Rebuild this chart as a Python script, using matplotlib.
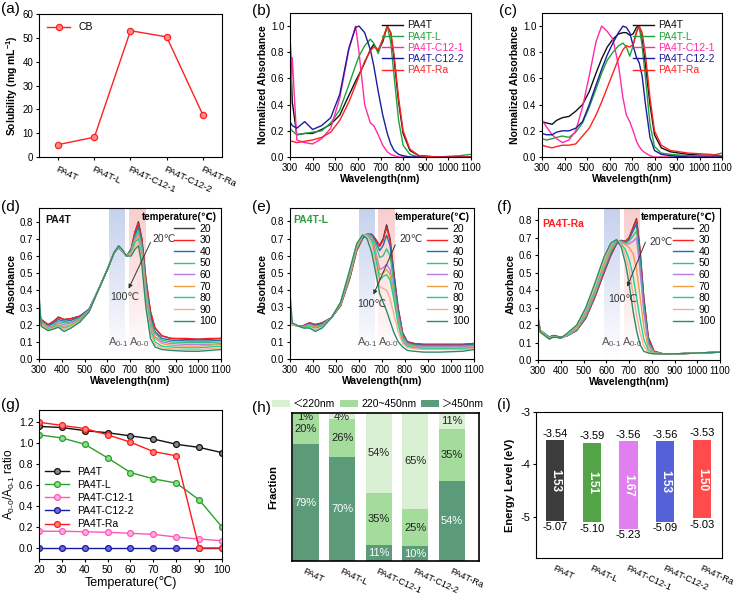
import numpy as np
import matplotlib
matplotlib.use('Agg')
import matplotlib.pyplot as plt
from matplotlib.colors import to_rgb
from matplotlib.patches import Patch

plt.rcParams.update({
    'font.family': ['Liberation Sans', 'DejaVu Sans', 'Noto Sans CJK SC'],
    'font.size': 7,
    'axes.unicode_minus': False,
    'mathtext.fontset': 'custom',
    'mathtext.rm': 'Liberation Sans',
    'mathtext.it': 'Liberation Sans:italic',
    'mathtext.bf': 'Liberation Sans:bold',
    'axes.linewidth': 0.8,
    'xtick.direction': 'out', 'ytick.direction': 'out',
    'xtick.major.size': 2.5, 'ytick.major.size': 2.5,
    'xtick.major.width': 0.8, 'ytick.major.width': 0.8,
    'xtick.labelsize': 7, 'ytick.labelsize': 7,
    'xtick.major.pad': 1.5, 'ytick.major.pad': 1.5,
})

# ---------------- data ----------------
cats = ['PA4T', 'PA4T-L', 'PA4T-C12-1', 'PA4T-C12-2', 'PA4T-Ra']
solubility = [5.2, 8.3, 53.0, 50.4, 17.7]

# (b) solution normalized absorbance
wl_b = [300, 310, 330, 365, 400, 440, 480, 520, 560, 590, 605, 630, 655, 670, 690,
        710, 730, 745, 760, 780, 800, 830, 870, 950, 1050, 1100]
b_PA4T = [0.95, 0.42, 0.17, 0.18, 0.18, 0.21, 0.25, 0.32, 0.47, 0.58, 0.63, 0.72, 0.82, 0.86, 0.81,
          0.88, 1.0, 0.95, 0.75, 0.42, 0.18, 0.05, 0.01, 0.0, 0.0, 0.0]
b_L = [0.22, 0.20, 0.17, 0.18, 0.19, 0.20, 0.26, 0.36, 0.55, 0.70, 0.77, 0.85, 0.90, 0.87, 0.79,
       0.90, 1.0, 0.88, 0.62, 0.28, 0.09, 0.02, 0.0, 0.0, 0.01, 0.02]
b_C1 = [0.30, 0.76, 0.13, 0.11, 0.10, 0.14, 0.22, 0.45, 0.82, 1.0, 0.80, 0.40, 0.26, 0.24, 0.17,
        0.09, 0.04, 0.02, 0.01, 0.0, 0.0, 0.0, 0.0, 0.0, 0.0, 0.0]
b_C2 = [0.27, 0.24, 0.22, 0.27, 0.21, 0.24, 0.30, 0.48, 0.83, 0.99, 1.0, 0.95, 0.82, 0.70, 0.50,
        0.32, 0.18, 0.10, 0.05, 0.02, 0.01, 0.0, 0.0, 0.0, 0.0, 0.0]
b_Ra = [0.12, 0.12, 0.11, 0.12, 0.13, 0.15, 0.19, 0.28, 0.42, 0.55, 0.62, 0.73, 0.81, 0.84, 0.82,
        0.90, 1.0, 0.95, 0.78, 0.45, 0.20, 0.06, 0.01, 0.0, 0.0, 0.0]

# (c) film normalized absorbance
wl_c = [300, 320, 345, 365, 390, 420, 450, 480, 510, 540, 565, 590, 615, 640, 660,
        675, 690, 705, 720, 732, 745, 760, 780, 800, 830, 870, 950, 1050, 1100]
c_PA4T = [0.27, 0.26, 0.25, 0.28, 0.30, 0.31, 0.35, 0.40, 0.50, 0.64, 0.75, 0.84, 0.90, 0.94, 0.95,
          0.95, 0.93, 0.94, 0.99, 1.0, 0.90, 0.70, 0.40, 0.17, 0.07, 0.04, 0.02, 0.01, 0.01]
c_L = [0.14, 0.13, 0.14, 0.15, 0.16, 0.15, 0.19, 0.26, 0.38, 0.52, 0.64, 0.74, 0.80, 0.85, 0.87,
       0.84, 0.77, 0.85, 0.96, 1.0, 0.85, 0.60, 0.25, 0.08, 0.03, 0.02, 0.01, 0.01, 0.03]
c_C1 = [0.28, 0.23, 0.17, 0.14, 0.11, 0.13, 0.20, 0.38, 0.62, 0.88, 1.0, 0.96, 0.90, 0.70, 0.45,
        0.32, 0.27, 0.20, 0.12, 0.08, 0.05, 0.03, 0.01, 0.0, 0.0, 0.0, 0.0, 0.0, 0.0]
c_C2 = [0.18, 0.17, 0.17, 0.19, 0.20, 0.20, 0.22, 0.27, 0.40, 0.55, 0.67, 0.78, 0.87, 0.95, 1.0,
        0.99, 0.95, 0.85, 0.76, 0.72, 0.62, 0.40, 0.15, 0.05, 0.02, 0.01, 0.0, 0.0, 0.0]
c_Ra = [0.09, 0.08, 0.07, 0.08, 0.09, 0.09, 0.10, 0.16, 0.22, 0.32, 0.42, 0.53, 0.64, 0.75, 0.82,
        0.85, 0.84, 0.86, 0.95, 1.0, 0.95, 0.78, 0.45, 0.20, 0.09, 0.05, 0.03, 0.02, 0.01]

temps = [20, 30, 40, 50, 60, 70, 80, 90, 100]

# (d) PA4T temperature-dependent absorbance
wl_d = [300, 310, 340, 365, 385, 410, 440, 480, 520, 560, 600, 630, 650, 665, 685,
        705, 722, 737, 752, 770, 790, 810, 840, 880, 950, 1000, 1050, 1100]
d20 = [0.25, 0.23, 0.20, 0.22, 0.245, 0.23, 0.235, 0.25, 0.29, 0.40, 0.52, 0.62, 0.65, 0.63, 0.60,
       0.64, 0.74, 0.80, 0.70, 0.46, 0.27, 0.18, 0.135, 0.12, 0.115, 0.115, 0.115, 0.12]
d30 = [0.26, 0.23, 0.20, 0.22, 0.24, 0.23, 0.235, 0.25, 0.29, 0.40, 0.52, 0.62, 0.65, 0.63, 0.60,
       0.64, 0.74, 0.79, 0.70, 0.47, 0.28, 0.18, 0.135, 0.12, 0.12, 0.115, 0.12, 0.12]
d40 = [0.27, 0.22, 0.195, 0.21, 0.23, 0.22, 0.225, 0.245, 0.29, 0.40, 0.52, 0.62, 0.65, 0.63, 0.60,
       0.635, 0.72, 0.77, 0.68, 0.44, 0.25, 0.16, 0.12, 0.11, 0.105, 0.105, 0.105, 0.11]
d50 = [0.28, 0.22, 0.19, 0.20, 0.22, 0.21, 0.215, 0.24, 0.285, 0.40, 0.52, 0.62, 0.65, 0.63, 0.60,
       0.63, 0.71, 0.75, 0.66, 0.42, 0.23, 0.15, 0.11, 0.10, 0.095, 0.095, 0.095, 0.10]
d60 = [0.29, 0.21, 0.185, 0.195, 0.21, 0.20, 0.21, 0.235, 0.285, 0.40, 0.52, 0.62, 0.655, 0.63, 0.60,
       0.625, 0.70, 0.73, 0.64, 0.40, 0.21, 0.13, 0.10, 0.09, 0.085, 0.085, 0.085, 0.09]
d70 = [0.31, 0.21, 0.18, 0.19, 0.20, 0.19, 0.20, 0.23, 0.28, 0.40, 0.52, 0.62, 0.655, 0.635, 0.60,
       0.62, 0.69, 0.72, 0.62, 0.38, 0.19, 0.12, 0.09, 0.08, 0.075, 0.075, 0.08, 0.085]
d80 = [0.33, 0.20, 0.175, 0.185, 0.195, 0.18, 0.195, 0.225, 0.28, 0.40, 0.52, 0.62, 0.655, 0.635, 0.60,
       0.615, 0.68, 0.70, 0.60, 0.36, 0.17, 0.10, 0.075, 0.07, 0.065, 0.065, 0.07, 0.075]
d90 = [0.35, 0.20, 0.17, 0.18, 0.19, 0.17, 0.19, 0.22, 0.275, 0.40, 0.52, 0.62, 0.66, 0.635, 0.60,
       0.61, 0.66, 0.68, 0.58, 0.33, 0.15, 0.085, 0.065, 0.06, 0.055, 0.055, 0.06, 0.065]
d100 = [0.38, 0.19, 0.165, 0.175, 0.185, 0.16, 0.18, 0.215, 0.275, 0.40, 0.52, 0.62, 0.66, 0.64, 0.60,
        0.60, 0.64, 0.66, 0.55, 0.30, 0.12, 0.07, 0.055, 0.05, 0.045, 0.045, 0.05, 0.055]

# (e) PA4T-L
wl_e = [300, 310, 340, 360, 385, 410, 440, 480, 520, 560, 590, 615, 635, 655, 670,
        690, 705, 720, 735, 750, 770, 790, 810, 840, 880, 950, 1050, 1100]
e20 = [0.22, 0.20, 0.19, 0.195, 0.21, 0.20, 0.21, 0.24, 0.31, 0.47, 0.63, 0.70, 0.725, 0.725, 0.70,
       0.66, 0.70, 0.78, 0.70, 0.52, 0.30, 0.15, 0.10, 0.09, 0.085, 0.085, 0.085, 0.09]
e30 = [0.23, 0.20, 0.19, 0.195, 0.21, 0.20, 0.21, 0.24, 0.31, 0.47, 0.63, 0.70, 0.725, 0.725, 0.70,
       0.655, 0.69, 0.765, 0.69, 0.51, 0.29, 0.15, 0.10, 0.09, 0.085, 0.085, 0.085, 0.09]
e40 = [0.24, 0.20, 0.19, 0.19, 0.205, 0.195, 0.205, 0.24, 0.315, 0.48, 0.64, 0.705, 0.725, 0.72, 0.69,
       0.63, 0.66, 0.72, 0.66, 0.49, 0.28, 0.14, 0.095, 0.085, 0.08, 0.08, 0.08, 0.085]
e50 = [0.25, 0.20, 0.19, 0.19, 0.20, 0.19, 0.20, 0.24, 0.315, 0.48, 0.64, 0.71, 0.725, 0.715, 0.67,
       0.59, 0.60, 0.64, 0.60, 0.45, 0.26, 0.13, 0.09, 0.08, 0.075, 0.075, 0.075, 0.08]
e60 = [0.27, 0.20, 0.19, 0.19, 0.20, 0.19, 0.195, 0.24, 0.32, 0.49, 0.65, 0.715, 0.725, 0.71, 0.64,
       0.52, 0.53, 0.55, 0.52, 0.40, 0.24, 0.12, 0.085, 0.075, 0.07, 0.07, 0.07, 0.075]
e70 = [0.29, 0.20, 0.19, 0.185, 0.195, 0.185, 0.19, 0.24, 0.32, 0.49, 0.65, 0.715, 0.72, 0.70, 0.62,
       0.49, 0.50, 0.52, 0.49, 0.38, 0.22, 0.11, 0.08, 0.07, 0.065, 0.065, 0.065, 0.07]
e80 = [0.31, 0.20, 0.19, 0.185, 0.19, 0.18, 0.19, 0.24, 0.325, 0.50, 0.66, 0.72, 0.72, 0.69, 0.60,
       0.46, 0.48, 0.49, 0.46, 0.36, 0.20, 0.10, 0.075, 0.065, 0.06, 0.06, 0.06, 0.065]
e90 = [0.34, 0.20, 0.19, 0.18, 0.185, 0.17, 0.185, 0.24, 0.33, 0.51, 0.66, 0.72, 0.715, 0.67, 0.56,
       0.42, 0.41, 0.40, 0.35, 0.27, 0.16, 0.09, 0.065, 0.06, 0.055, 0.055, 0.055, 0.06]
e100 = [0.38, 0.21, 0.19, 0.18, 0.18, 0.16, 0.18, 0.24, 0.33, 0.52, 0.67, 0.72, 0.70, 0.62, 0.52,
        0.38, 0.33, 0.28, 0.22, 0.16, 0.10, 0.07, 0.05, 0.045, 0.04, 0.04, 0.045, 0.055]

# (f) PA4T-Ra
wl_f = [300, 310, 330, 350, 365, 385, 400, 430, 470, 510, 550, 590, 620, 645, 665,
        685, 700, 718, 733, 748, 765, 785, 810, 850, 900, 1000, 1100]
f20 = [0.22, 0.17, 0.15, 0.13, 0.14, 0.135, 0.13, 0.14, 0.17, 0.24, 0.36, 0.50, 0.60, 0.665, 0.685,
       0.68, 0.70, 0.76, 0.81, 0.64, 0.36, 0.13, 0.05, 0.035, 0.035, 0.04, 0.045]
f30 = [0.22, 0.17, 0.15, 0.13, 0.14, 0.135, 0.13, 0.14, 0.17, 0.24, 0.36, 0.50, 0.60, 0.665, 0.685,
       0.68, 0.70, 0.755, 0.80, 0.63, 0.35, 0.12, 0.05, 0.035, 0.035, 0.04, 0.045]
f40 = [0.23, 0.17, 0.15, 0.13, 0.14, 0.135, 0.13, 0.14, 0.17, 0.245, 0.37, 0.51, 0.61, 0.67, 0.685,
       0.675, 0.69, 0.74, 0.78, 0.60, 0.33, 0.11, 0.045, 0.035, 0.035, 0.04, 0.045]
f50 = [0.23, 0.17, 0.15, 0.13, 0.135, 0.13, 0.13, 0.14, 0.175, 0.25, 0.375, 0.52, 0.62, 0.675, 0.68,
       0.67, 0.68, 0.71, 0.74, 0.56, 0.30, 0.10, 0.045, 0.035, 0.035, 0.04, 0.045]
f60 = [0.24, 0.17, 0.145, 0.125, 0.135, 0.13, 0.125, 0.14, 0.18, 0.26, 0.38, 0.53, 0.63, 0.68, 0.68,
       0.665, 0.665, 0.68, 0.70, 0.52, 0.27, 0.09, 0.04, 0.035, 0.035, 0.04, 0.045]
f70 = [0.24, 0.17, 0.145, 0.125, 0.135, 0.13, 0.125, 0.145, 0.18, 0.27, 0.39, 0.54, 0.64, 0.685, 0.675,
       0.66, 0.645, 0.61, 0.52, 0.37, 0.19, 0.07, 0.04, 0.035, 0.035, 0.04, 0.045]
f80 = [0.24, 0.16, 0.14, 0.12, 0.13, 0.13, 0.125, 0.145, 0.19, 0.28, 0.40, 0.56, 0.65, 0.685, 0.67,
       0.63, 0.58, 0.48, 0.36, 0.24, 0.12, 0.055, 0.038, 0.035, 0.035, 0.04, 0.045]
f90 = [0.25, 0.16, 0.14, 0.12, 0.13, 0.13, 0.125, 0.15, 0.195, 0.29, 0.42, 0.57, 0.66, 0.69, 0.665,
       0.60, 0.52, 0.38, 0.26, 0.16, 0.08, 0.045, 0.037, 0.035, 0.035, 0.04, 0.045]
f100 = [0.25, 0.16, 0.14, 0.12, 0.13, 0.13, 0.125, 0.155, 0.20, 0.30, 0.44, 0.59, 0.67, 0.69, 0.65,
        0.55, 0.44, 0.28, 0.17, 0.09, 0.05, 0.04, 0.035, 0.035, 0.035, 0.04, 0.045]

# (g) A0-0/A0-1 ratio
g_PA4T = [1.16, 1.15, 1.12, 1.10, 1.07, 1.04, 0.99, 0.96, 0.91]
g_L = [1.08, 1.05, 0.99, 0.86, 0.72, 0.66, 0.62, 0.46, 0.20]
g_C1 = [0.16, 0.16, 0.155, 0.15, 0.14, 0.13, 0.105, 0.085, 0.07]
g_C2 = [0.0, 0.0, 0.0, 0.0, 0.0, 0.0, 0.0, 0.0, 0.0]
g_Ra = [1.20, 1.17, 1.14, 1.08, 1.01, 0.92, 0.88, 0.0, 0.0]

# (h) fractions (%)
h_labels = ['＜220nm', '220~450nm', '＞450nm']
h_gt450 = [79, 70, 11, 10, 54]
h_mid = [20, 26, 35, 25, 35]
h_lt220 = [1, 4, 54, 65, 11]

# (i) energy levels
lumo = [-3.54, -3.59, -3.56, -3.56, -3.53]
homo = [-5.07, -5.10, -5.23, -5.09, -5.03]
gap = ['1.53', '1.51', '1.67', '1.53', '1.50']

# ---------------- styles ----------------
mol_colors = ['#111111', '#1fa13a', '#ff2aa8', '#1c1c9e', '#ff2222']
temp_colors = ['#3a3a3a', '#ff2020', '#1f6fb2', '#3cc07a', '#b57be0', '#f0a040', '#1fcf8f', '#f6b090', '#2a8a6a']
W, H = 734, 596
fig = plt.figure(figsize=(W / 100, H / 100), dpi=100)


def add_ax(x0, y0, x1, y1):
    return fig.add_axes([x0 / W, 1 - y1 / H, (x1 - x0) / W, (y1 - y0) / H])


def panel_label(x, y, s):
    fig.text(x / W, 1 - y / H, s, fontsize=11, ha='left', va='center')


def rot_labels(ax, labels, size=6.8):
    ax.set_xticks(range(len(labels)))
    ax.set_xticklabels(labels, rotation=-25, ha='left', va='top', rotation_mode='anchor', fontsize=size)


def wl_axis(ax, ymax, yticks, fmt):
    ax.set_xlim(300, 1100)
    ax.set_xticks(range(300, 1101, 100))
    ax.set_ylim(0, ymax)
    ax.set_yticks(yticks)
    ax.set_yticklabels([fmt.format(v) for v in yticks])
    ax.set_xlabel('Wavelength(nm)', fontweight='bold', fontsize=7.5, labelpad=1)


# ---------------- (a) ----------------
ax = add_ax(39, 14, 222, 157)
ax.plot(range(len(cats)), solubility, '-o', color='#ff2020', lw=1.0, ms=4.5,
        mfc='#ff8a8a', mec='#ff2020', mew=0.9, label='CB')
ax.set_xlim(-0.53, 4.53)
ax.set_ylim(0, 60)
ax.set_yticks(range(0, 61, 10))
rot_labels(ax, cats)
ax.tick_params(axis='x', pad=3)
ax.set_ylabel('Solubility (mg mL$^{\\mathbf{-1}}$)', fontweight='bold', fontsize=7.5, labelpad=2)
ax.legend(loc='upper left', frameon=False, fontsize=7.5, handlelength=2.2, borderaxespad=0.4)
panel_label(1, 9, '(a)')

# ---------------- (b) & (c) ----------------
for (x0, y0, x1, y1), wl, series, lab, lx in [
        ((290, 13, 471, 157), wl_b, [b_PA4T, b_L, b_C1, b_C2, b_Ra], '(b)', 252),
        ((542, 13, 722, 157), wl_c, [c_PA4T, c_L, c_C1, c_C2, c_Ra], '(c)', 499)]:
    ax = add_ax(x0, y0, x1, y1)
    for s, c, n in zip(series, mol_colors, cats):
        ax.plot(wl, s, color=c, lw=1.0, label=n)
    wl_axis(ax, 1.1, [0.0, 0.2, 0.4, 0.6, 0.8, 1.0], '{:.1f}')
    ax.set_ylabel('Normalized Absorbance', fontweight='bold', fontsize=7.5, labelpad=2)
    leg = ax.legend(loc='upper right', frameon=False, fontsize=7.5, handlelength=2.0,
                    handletextpad=0.4, labelspacing=0.12, borderaxespad=0.3)
    for t, c in zip(leg.get_texts(), mol_colors):
        t.set_color(c)
    panel_label(lx, 11, lab)


# ---------------- (d)(e)(f) ----------------
def shade(ax, x0, x1, color, ymax):
    rgb = to_rgb(color)
    n = 64
    img = np.zeros((n, 1, 4))
    img[:, 0, :3] = rgb
    img[:, 0, 3] = np.linspace(0.6, 0.0, n)
    ax.imshow(img, extent=[x0, x1, 0, ymax], aspect='auto', origin='upper',
              zorder=0.5, interpolation='bilinear')


spans_d = [(607, 677), (695, 766)]
spans_e = [(600, 669), (683, 756)]
spans_f = [(592, 661), (679, 749)]

A01 = 'A$_{\\text{0-1}}$'
A00 = 'A$_{\\text{0-0}}$'

temp_panels = [
    dict(box=(39, 208, 221, 359), wl=wl_d, rows=[d20, d30, d40, d50, d60, d70, d80, d90, d100],
         spans=spans_d, ymax=0.88, name='PA4T', ncol='#111111', npos=(0.035, 0.92),
         arr=((790, 0.68), (694, 0.41)), t20=(800, 0.70), t100=(615, 0.36),
         a01=648, a00=742, lab='(d)', lx=1, ly=207),
    dict(box=(290, 208, 474, 359), wl=wl_e, rows=[e20, e30, e40, e50, e60, e70, e80, e90, e100],
         spans=spans_e, ymax=0.878, name='PA4T-L', ncol='#2e9a3e', npos=(0.02, 0.92),
         arr=((758, 0.665), (663, 0.375)), t20=(775, 0.70), t100=(594, 0.32),
         a01=636, a00=726, lab='(e)', lx=252, ly=207),
    dict(box=(538, 208, 720, 360), wl=wl_f, rows=[f20, f30, f40, f50, f60, f70, f80, f90, f100],
         spans=spans_f, ymax=0.871, name='PA4T-Ra', ncol='#ff2020', npos=(0.025, 0.895),
         arr=((772, 0.675), (692, 0.42)), t20=(788, 0.675), t100=(608, 0.35),
         a01=622, a00=716, lab='(f)', lx=497, ly=207),
]

for p in temp_panels:
    ax = add_ax(*p['box'])
    shade(ax, p['spans'][0][0], p['spans'][0][1], '#9fb2e2', p['ymax'])
    shade(ax, p['spans'][1][0], p['spans'][1][1], '#f7abab', p['ymax'])
    for r, c, t in zip(p['rows'], temp_colors, temps):
        ax.plot(p['wl'], r, color=c, lw=1.0, label=str(t), zorder=2)
    wl_axis(ax, p['ymax'], [0.0, 0.1, 0.2, 0.3, 0.4, 0.5, 0.6, 0.7, 0.8], '{:.1f}')
    ax.set_ylabel('Absorbance', fontweight='bold', fontsize=7.5, labelpad=2)
    ax.text(p['npos'][0], p['npos'][1], p['name'], transform=ax.transAxes, color=p['ncol'],
            fontweight='bold', fontsize=7.5, ha='left', va='center')
    ax.annotate('', xy=p['arr'][1], xytext=p['arr'][0],
                arrowprops=dict(arrowstyle='-|>', color='#333333', lw=0.7, mutation_scale=6,
                                shrinkA=0, shrinkB=0), zorder=4)
    ax.text(p['t20'][0], p['t20'][1], '20℃', fontsize=7.5, color='#333333', ha='left', va='center', zorder=4)
    ax.text(p['t100'][0], p['t100'][1], '100℃', fontsize=7.5, color='#333333', ha='left', va='center', zorder=4)
    ax.text(p['a01'], 0.10, A01, fontsize=8, color='#555555', ha='center', va='center', zorder=4)
    ax.text(p['a00'], 0.10, A00, fontsize=8, color='#555555', ha='center', va='center', zorder=4)
    leg = ax.legend(loc='upper right', frameon=False, fontsize=7.5, title='temperature(℃)',
                    title_fontproperties={'weight': 'bold', 'size': 7}, handlelength=1.9,
                    handletextpad=0.5, labelspacing=0.15, borderaxespad=0.2, borderpad=0.2,
                    alignment='right')
    leg.set_zorder(5)
    panel_label(p['lx'], p['ly'], p['lab'])

# ---------------- (g) ----------------
ax = add_ax(39, 410, 222, 559)
g_series = [g_PA4T, g_L, g_C1, g_C2, g_Ra]
g_colors = ['#111111', '#2ca02c', '#ff55bb', '#1a1a9c', '#ff1a1a']
g_faces = ['#8a8a8a', '#8fdc8f', '#ffb0e0', '#6a6ae6', '#ff8080']
for s, c, fc, n in zip(g_series, g_colors, g_faces, cats):
    ax.plot(temps, s, '-o', color=c, mfc=fc, mec=c, ms=4.2, mew=0.9, lw=1.0, label=n)
ax.set_xlim(20, 100)
ax.set_xticks(range(20, 101, 10))
ax.set_ylim(-0.105, 1.317)
ax.set_yticks([0.0, 0.2, 0.4, 0.6, 0.8, 1.0, 1.2])
ax.set_yticklabels(['{:.1f}'.format(v) for v in [0.0, 0.2, 0.4, 0.6, 0.8, 1.0, 1.2]])
ax.tick_params(labelsize=7.5)
ax.set_xlabel('Temperature(℃)', fontsize=9, labelpad=1)
ax.set_ylabel('A$_{\\text{0-0}}$/A$_{\\text{0-1}}$ ratio', fontsize=8.5, labelpad=1)
ax.legend(loc='center left', bbox_to_anchor=(0.0, 0.41), frameon=False, fontsize=7.5,
          handlelength=2.3, labelspacing=0.3, borderaxespad=0.2)
panel_label(1, 405, '(g)')

# ---------------- (h) ----------------
ax = add_ax(292, 413, 479, 561)
h_colors = ['#5b9b7a', '#a4dc9c', '#d9f1d2']
x = np.arange(len(cats))
gt = np.array(h_gt450) / 100.0
md = np.array(h_mid) / 100.0
lt = np.array(h_lt220) / 100.0
ax.bar(x, gt, width=0.71, color=h_colors[0], zorder=2)
ax.bar(x, md, width=0.71, bottom=gt, color=h_colors[1], zorder=2)
ax.bar(x, lt, width=0.71, bottom=gt + md, color=h_colors[2], zorder=2)
for i in range(len(cats)):
    ax.text(x[i], gt[i] / 2, f'{h_gt450[i]}%', color='white', ha='center', va='center', fontsize=8, zorder=3)
    ax.text(x[i], gt[i] + md[i] / 2, f'{h_mid[i]}%', color='#222222', ha='center', va='center', fontsize=8, zorder=3)
    ytop = min(gt[i] + md[i] + lt[i] / 2, 0.972)
    ax.text(x[i], ytop, f'{h_lt220[i]}%', color='#222222', ha='center', va='center', fontsize=8, zorder=3)
ax.set_xlim(-0.373, 4.745)
ax.set_ylim(0, 1.0)
ax.set_yticks([])
rot_labels(ax, cats, 6.5)
ax.tick_params(axis='x', length=0, pad=4)
for sp in ax.spines.values():
    sp.set_linewidth(1.2)
ax.set_ylabel('Fraction', fontweight='bold', fontsize=8, labelpad=10)
handles = [Patch(facecolor=c) for c in h_colors[::-1]]
ax.legend(handles, h_labels, loc='lower center', bbox_to_anchor=(0.46, 0.99), ncol=3, frameon=False,
          fontsize=7.5, handlelength=1.7, handleheight=0.7, columnspacing=0.5, handletextpad=0.3,
          borderaxespad=0.1)
panel_label(252, 408, '(h)')

# ---------------- (i) ----------------
ax = add_ax(536, 412, 722, 558)
i_colors = ['#3c3c3c', '#52a447', '#e080f0', '#5561d6', '#ff4b4b']
lumo_a = np.array(lumo)
homo_a = np.array(homo)
ax.bar(x, lumo_a - homo_a, bottom=homo_a, width=0.5, color=i_colors, zorder=2)
for i in range(len(cats)):
    ax.text(x[i], lumo_a[i] + 0.03, f'{lumo[i]:.2f}', ha='center', va='bottom', fontsize=8)
    ax.text(x[i], homo_a[i] - 0.03, f'{homo[i]:.2f}', ha='center', va='top', fontsize=8)
    ax.text(x[i], (lumo_a[i] + homo_a[i]) / 2, gap[i], rotation=-90, color='white', fontweight='bold',
            ha='center', va='center', fontsize=8.5)
ax.set_xlim(-0.52, 4.55)
ax.set_ylim(-5.785, -3.0)
ax.set_yticks([-5, -4, -3])
ax.tick_params(axis='y', labelsize=8)
rot_labels(ax, cats, 6.5)
ax.tick_params(axis='x', length=0, pad=4)
ax.set_ylabel('Energy Level (eV)', fontweight='bold', fontsize=8, labelpad=4)
panel_label(497, 405, '(i)')

fig.savefig('out.png', dpi=100)
